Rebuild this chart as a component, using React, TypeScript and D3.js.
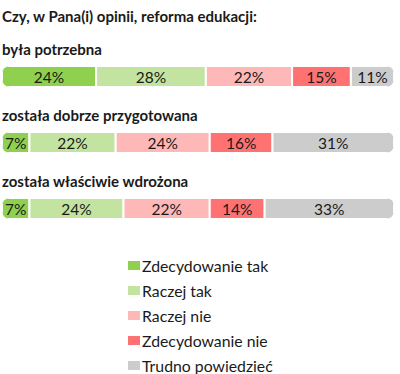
import React from "react";
import * as d3 from "d3";

const title = "Czy, w Pana(i) opinii, reforma edukacji:";
const categories = ["była potrzebna", "została dobrze przygotowana", "została właściwie wdrożona"];
const seriesNames = ["Zdecydowanie tak", "Raczej tak", "Raczej nie", "Zdecydowanie nie", "Trudno powiedzieć"];
const zdecydowanieTak = [24, 7, 7];
const raczejTak = [28, 22, 24];
const raczejNie = [22, 24, 22];
const zdecydowanieNie = [15, 16, 14];
const trudnoPowiedziec = [11, 31, 33];
const colors = ["#8fd04f", "#c3e4a0", "#ffb8b8", "#ff7272", "#cccccc"];

const W = 400;
const H = 374;
const FONT = "Lato, 'Noto Sans', sans-serif";

export default function App() {
  const series = [zdecydowanieTak, raczejTak, raczejNie, zdecydowanieNie, trudnoPowiedziec];
  const table = categories.map((c, i) => {
    const row: any = { category: c };
    seriesNames.forEach((s, j) => (row[s] = series[j][i]));
    return row;
  });
  const stacked = d3.stack<any>().keys(seriesNames)(table);
  const x = d3.scaleLinear().domain([0, 100]).range([2, 394]);
  const y = d3.scaleBand().domain(categories).range([44, 242]);
  const barH = 21;
  const legendY = d3.scalePoint().domain(seriesNames).range([266, 366]);

  return (
    <svg width={W} height={H} style={{ position: "absolute", left: 0, top: 0, fontFamily: FONT }}>
      <defs>
        {categories.map((c, i) => (
          <clipPath id={`clip${i}`} key={c}>
            <rect x={x(0)} y={(y(c) as number) + 22} width={x(100) - x(0)} height={barH} rx={8} ry={8} />
          </clipPath>
        ))}
      </defs>
      <text x={2} y={22} fontSize={15} fontWeight={700} fill="#1a1a1a">{title}</text>
      {categories.map((c, i) => {
        const by = (y(c) as number);
        return (
          <g key={c}>
            <text x={2} y={by + 11} fontSize={15} fontWeight={700} fill="#1a1a1a">{c}</text>
            <g clipPath={`url(#clip${i})`}>
              {stacked.map((layer, j) => {
                const d = layer[i];
                return (
                  <rect key={j} x={x(d[0])} y={by + 22} width={x(d[1]) - x(d[0])} height={barH}
                    fill={colors[j]} stroke="#fff" strokeWidth={2} />
                );
              })}
            </g>
            {stacked.map((layer, j) => {
              const d = layer[i];
              return (
                <text key={j} x={(x(d[0]) + x(d[1])) / 2} y={by + 22 + barH / 2 + 6}
                  textAnchor="middle" fontSize={15.5} fill="#1a1a1a">{`${d[1] - d[0]}%`}</text>
              );
            })}
          </g>
        );
      })}
      {seriesNames.map((s, j) => {
        const ly = legendY(s) as number;
        return (
          <g key={s}>
            <rect x={128} y={ly - 5} width={12} height={9} fill={colors[j]} />
            <text x={142} y={ly + 5.5} fontSize={15.8} fill="#1a1a1a">{s}</text>
          </g>
        );
      })}
    </svg>
  );
}
